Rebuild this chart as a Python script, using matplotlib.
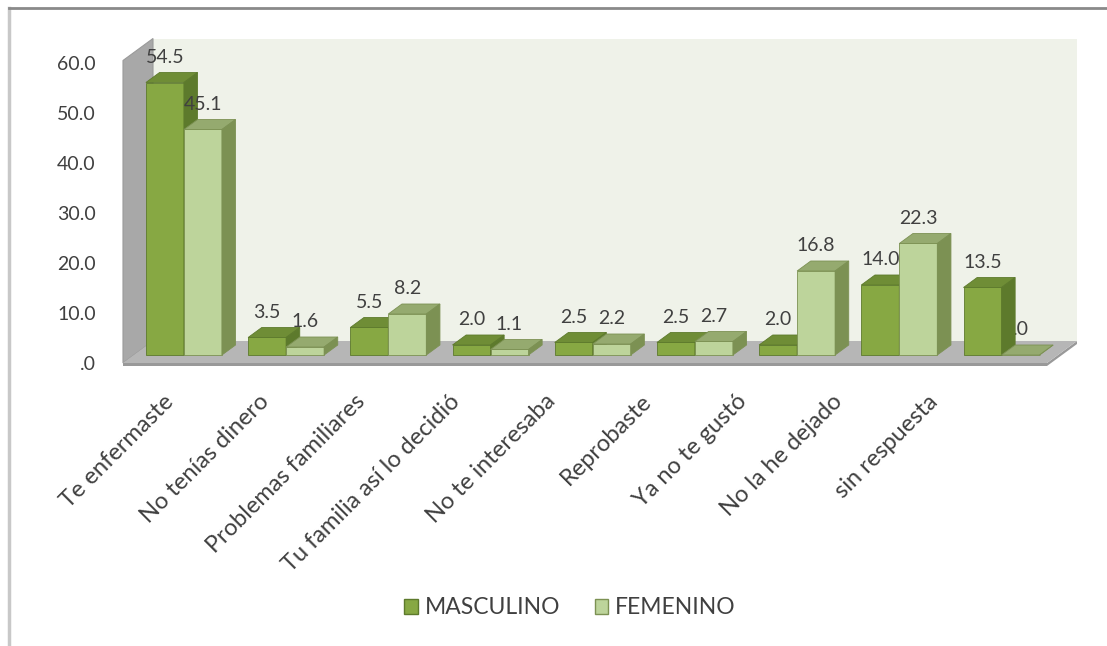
import matplotlib.pyplot as plt
import numpy as np
from matplotlib.patches import Polygon, Rectangle

plt.rcParams['font.family'] = ['Lato', 'DejaVu Sans']

categories = ['Te enfermaste', 'No tenías dinero', 'Problemas familiares',
              'Tu familia así lo decidió', 'No te interesaba', 'Reprobaste',
              'Ya no te gustó', 'No la he dejado', 'sin respuesta']
masculino = [54.5, 3.5, 5.5, 2.0, 2.5, 2.5, 2.0, 14.0, 13.5]
femenino = [45.1, 1.6, 8.2, 1.1, 2.2, 2.7, 16.8, 22.3, 0.0]
series_names = ['MASCULINO', 'FEMENINO']
y_ticks = [0, 10, 20, 30, 40, 50, 60]

# colores: frente, tapa, lateral
colors = {
    'MASCULINO': ('#87a843', '#6f8d36', '#5d7a2c'),
    'FEMENINO': ('#bdd49b', '#95aa6f', '#7c9153'),
}

W, H = 1107, 646
fig = plt.figure(figsize=(W / 100, H / 100), dpi=100)

# ejes: 1 unidad x = 102.2 px, 1 unidad y = 5 px
px_x, px_y = 102.2, 5.0
ax_l, ax_r, ax_t, ax_b = 100, 1100, 30, 370
x0_px, y0_px = 173, 363
ax = fig.add_axes([ax_l / W, 1 - ax_b / H, (ax_r - ax_l) / W, (ax_b - ax_t) / H])
ax.set_xlim((ax_l - x0_px) / px_x, (ax_r - x0_px) / px_x)
ax.set_ylim((y0_px - ax_b) / px_y, (y0_px - ax_t) / px_y)
for s in ax.spines.values():
    s.set_visible(False)

# profundidad (vector del piso completo)
Dx, Dy = 30 / px_x, 22 / px_y
xl, xr = (123 - x0_px) / px_x, (1047 - x0_px) / px_x
wall_h = 60.5

# pared trasera
ax.add_patch(Polygon([(xl + Dx, Dy), (xr + Dx, Dy), (xr + Dx, Dy + wall_h), (xl + Dx, Dy + wall_h)],
                     closed=True, facecolor='#eff2e9', edgecolor='none', zorder=1))
# pared izquierda
ax.add_patch(Polygon([(xl, 0), (xl + Dx, Dy), (xl + Dx, Dy + wall_h), (xl, wall_h)],
                     closed=True, facecolor='#a8a8a8', edgecolor='#9a9a9a', lw=0.8, zorder=2))
# piso
ax.add_patch(Polygon([(xl, 0), (xr, 0), (xr + Dx, Dy), (xl + Dx, Dy)],
                     closed=True, facecolor='#b6b6b6', edgecolor='none', zorder=2))
ax.add_patch(Polygon([(xl, 0), (xr, 0), (xr + Dx, Dy), (xr + Dx, Dy - 0.6), (xr, -0.6), (xl, -0.6)],
                     closed=True, facecolor='#999999', edgecolor='none', zorder=1.5))

bw = 38 / px_x
f0, f1 = 8 / 22, 18 / 22
ddx, ddy = (f1 - f0) * Dx, (f1 - f0) * Dy

z = 3
for i in range(len(categories)):
    for s, (name, vals) in enumerate(zip(series_names, [masculino, femenino])):
        v = vals[i]
        front, top, side = colors[name]
        bx = i - bw + s * bw + f0 * Dx
        by = f0 * Dy
        ax.add_patch(Rectangle((bx, by), bw, v, facecolor=front, edgecolor=side, lw=0.6, zorder=z))
        ax.add_patch(Polygon([(bx, by + v), (bx + bw, by + v), (bx + bw + ddx, by + v + ddy),
                              (bx + ddx, by + v + ddy)], closed=True, facecolor=top,
                             edgecolor=side, lw=0.6, zorder=z))
        ax.add_patch(Polygon([(bx + bw, by), (bx + bw + ddx, by + ddy), (bx + bw + ddx, by + v + ddy),
                              (bx + bw, by + v)], closed=True, facecolor=side,
                             edgecolor=side, lw=0.6, zorder=z))
        lab = ('%.1f' % v) if v != 0 else '.0'
        ax.text(bx + bw / 2, v + f1 * Dy + 3.0, lab, ha='center', va='center',
                fontsize=14, color='#404040', zorder=2.5 if v == 0 else 10)
        z += 1

# eje y
ax.set_yticks(y_ticks)
ax.set_yticklabels(['.0' if t == 0 else '%.1f' % t for t in y_ticks], fontsize=14, color='#404040')
ax.tick_params(axis='y', length=0, pad=3)

# eje x (las etiquetas del 3D de Excel van algo más juntas que las barras)
lab_px = 163 + 95.5 * np.arange(len(categories))
ax.set_xticks((lab_px - x0_px) / px_x)
ax.set_xticklabels(categories, rotation=45, ha='right', va='top', rotation_mode='anchor',
                   fontsize=17, color='#404040')
ax.tick_params(axis='x', length=0, pad=15)

# leyenda
fig.legend(handles=[Rectangle((0, 0), 1, 1, facecolor=colors[n][0], edgecolor=colors[n][2]) for n in series_names],
           labels=series_names, loc='center', bbox_to_anchor=(570 / W, 1 - 608 / H), ncol=2,
           frameon=False, fontsize=16.5, handlelength=0.6, handleheight=0.6, handletextpad=0.3,
           columnspacing=1.5, labelcolor='#404040')

# marco
fig.add_artist(plt.Line2D([9 / W, 9 / W], [0, 1 - 8 / H], color='#c8c8c8', lw=2.5))
fig.add_artist(plt.Line2D([9 / W, 1], [1 - 8 / H, 1 - 8 / H], color='#8a8a8a', lw=2))

fig.savefig('out.png', dpi=100)
